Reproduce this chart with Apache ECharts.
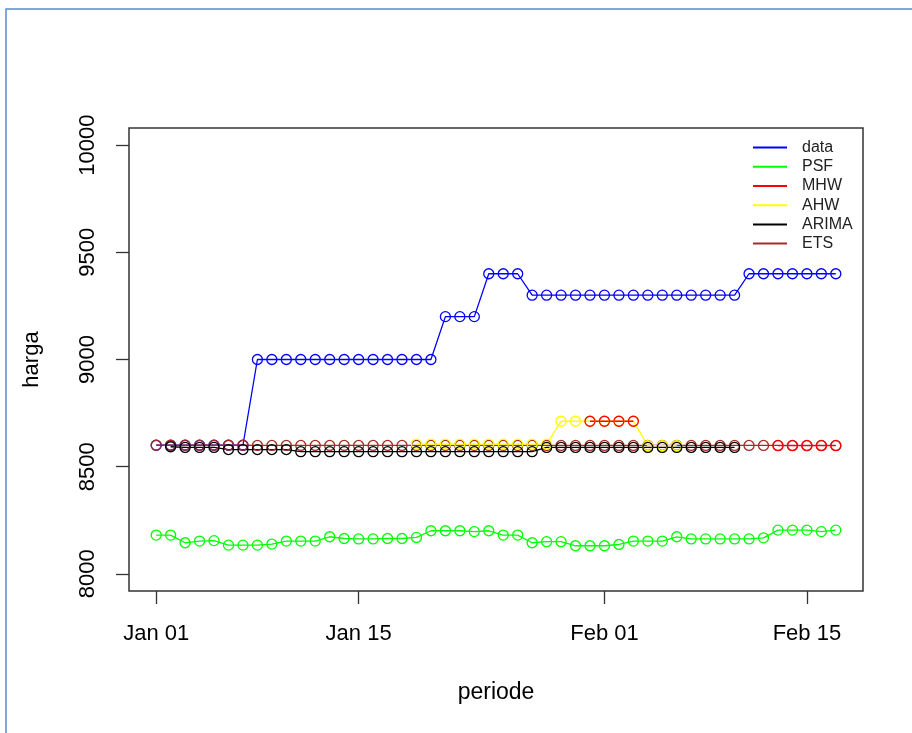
<!DOCTYPE html>
<html>
<head>
<meta charset="utf-8">
<script src="https://cdn.jsdelivr.net/npm/echarts@6/dist/echarts.min.js"></script>
<style>
html,body{margin:0;padding:0;background:#fff;}
#chart{width:912px;height:733px;}
</style>
</head>
<body>
<div id="chart"></div>
<script>
// ---- data ----
const dates = ['Jan 01','Jan 02','Jan 03','Jan 04','Jan 05','Jan 06','Jan 07','Jan 08','Jan 09','Jan 10',
  'Jan 11','Jan 12','Jan 13','Jan 14','Jan 15','Jan 16','Jan 17','Jan 18','Jan 19','Jan 20',
  'Jan 21','Jan 22','Jan 23','Jan 24','Jan 25','Jan 26','Jan 27','Jan 28','Jan 29','Jan 30',
  'Jan 31','Feb 01','Feb 02','Feb 03','Feb 04','Feb 05','Feb 06','Feb 07','Feb 08','Feb 09',
  'Feb 10','Feb 11','Feb 12','Feb 13','Feb 14','Feb 15','Feb 16','Feb 17'];

const dataActual = [8600,8600,8600,8600,8600,8600,8600,9000,9000,9000,
  9000,9000,9000,9000,9000,9000,9000,9000,9000,9000,
  9200,9200,9200,9400,9400,9400,9300,9300,9300,9300,
  9300,9300,9300,9300,9300,9300,9300,9300,9300,9300,
  9300,9400,9400,9400,9400,9400,9400,9400];

const psf = [8181,8181,8145,8153,8155,8134,8134,8134,8139,8153,
  8153,8153,8173,8165,8163,8163,8165,8165,8170,8201,
  8201,8201,8197,8201,8181,8181,8145,8150,8150,8131,
  8131,8131,8137,8153,8153,8153,8173,8163,8163,8163,
  8163,8163,8168,8204,8204,8204,8197,8204];

const mhw = [null,null,null,null,null,null,null,null,null,null,
  null,null,null,null,null,null,null,null,null,null,
  null,null,null,null,null,null,null,null,null,null,
  8712,8712,8712,8712,null,null,null,null,null,null,
  null,null,null,8598,8598,8598,8598,8598];

const ahw = [null,null,null,null,null,null,null,null,null,null,
  null,null,null,null,null,null,null,null,8605,8605,
  8605,8605,8605,8605,8605,8605,8605,8605,8712,8712,
  8712,8712,8712,8712,8598,8598,8598,null,null,null,
  null,null,null,null,null,null,null,null];

const arima = [null,8593,8590,8590,8590,8580,8580,8580,8580,8580,
  8570,8570,8570,8570,8570,8570,8570,8570,8570,8570,
  8570,8570,8570,8570,8570,8570,8570,8590,8590,8590,
  8590,8590,8590,8590,8590,8590,8590,8590,8590,8590,
  8590,null,null,null,null,null,null,null];

const ets = [8600,8600,8600,8600,8600,8600,8600,8599,8599,8599,
  8599,8599,8599,8599,8599,8599,8599,8599,8599,8599,
  8599,8599,8599,8599,8599,8599,8599,8599,8599,8599,
  8599,8599,8599,8599,8599,8599,8599,8599,8599,8599,
  8599,8599,8599,8599,8599,8599,8599,8599];

const xTickLabels = ['Jan 01','Jan 15','Feb 01','Feb 15'];
const yTicks = [8000,8500,9000,9500,10000];

const seriesNames = ['data','PSF','MHW','AHW','ARIMA','ETS'];
const seriesColors = {data:'#0000FF', PSF:'#00FF00', MHW:'#FF0000', AHW:'#FFFF00', ARIMA:'#000000', ETS:'#A52A2A'};
const seriesValues = {data:dataActual, PSF:psf, MHW:mhw, AHW:ahw, ARIMA:arima, ETS:ets};
// drawing order (later on top)
const drawOrder = ['data','PSF','ETS','AHW','ARIMA','MHW'];

const xTickIdx = xTickLabels.map(l => dates.indexOf(l));
const FONT = "'Liberation Sans', Arial, sans-serif";

function mkSeries(name){
  const c = seriesColors[name];
  return {
    name: name,
    type: 'line',
    data: seriesValues[name].map((v,i) => [i, v == null ? '-' : v]),
    connectNulls: false,
    symbol: 'circle',
    symbolSize: 10,
    showSymbol: true,
    lineStyle: {color: c, width: 1.3},
    itemStyle: {color: 'rgba(0,0,0,0)', borderColor: c, borderWidth: 1.3},
    emphasis: {disabled: true},
    animation: false
  };
}

const chart = echarts.init(document.getElementById('chart'), null, {renderer:'canvas'});
chart.setOption({
  animation: false,
  backgroundColor: '#fff',
  textStyle: {fontFamily: FONT},
  graphic: [{
    type: 'rect',
    shape: {x: 6, y: 9, width: 1000, height: 800},
    style: {fill: 'none', stroke: '#5B8BC9', lineWidth: 1.5},
    silent: true
  }],
  grid: {
    left: 129, right: 49, top: 128, bottom: 142,
    show: true, borderColor: '#333', borderWidth: 1.5, backgroundColor: 'transparent'
  },
  legend: {
    orient: 'vertical',
    left: 753, top: 138,
    padding: 0,
    itemGap: 0,
    itemWidth: 34, itemHeight: 2,
    icon: 'rect',
    selectedMode: false,
    textStyle: {fontFamily: FONT, fontSize: 16, color: '#222', lineHeight: 19.2, padding: [0,0,0,10]},
    data: seriesNames.map(n => ({name: n, icon: 'rect', itemStyle: {color: seriesColors[n], borderWidth: 0}}))
  },
  xAxis: {
    type: 'value',
    min: -1.88, max: 48.88,
    name: 'periode',
    nameLocation: 'middle',
    nameGap: 90,
    nameTextStyle: {fontFamily: FONT, fontSize: 23, color: '#000'},
    axisLine: {show: false, onZero: false},
    splitLine: {show: false},
    axisTick: {show: true, length: 13, customValues: xTickIdx, lineStyle: {color: '#333', width: 1.3}},
    axisLabel: {
      customValues: xTickIdx,
      margin: 32,
      fontFamily: FONT, fontSize: 22, color: '#000',
      formatter: v => dates[Math.round(v)]
    }
  },
  yAxis: {
    type: 'value',
    min: 7920, max: 10080,
    name: 'harga',
    nameLocation: 'middle',
    nameRotate: 90,
    nameGap: 86,
    nameTextStyle: {fontFamily: FONT, fontSize: 22, color: '#000'},
    axisLine: {show: false, onZero: false},
    splitLine: {show: false},
    axisTick: {show: true, length: 13, customValues: yTicks, lineStyle: {color: '#333', width: 1.3}},
    axisLabel: {
      customValues: yTicks,
      rotate: 90,
      margin: 30,
      fontFamily: FONT, fontSize: 22, color: '#000',
      formatter: v => String(v)
    }
  },
  series: drawOrder.map(mkSeries)
});
</script>
</body>
</html>
